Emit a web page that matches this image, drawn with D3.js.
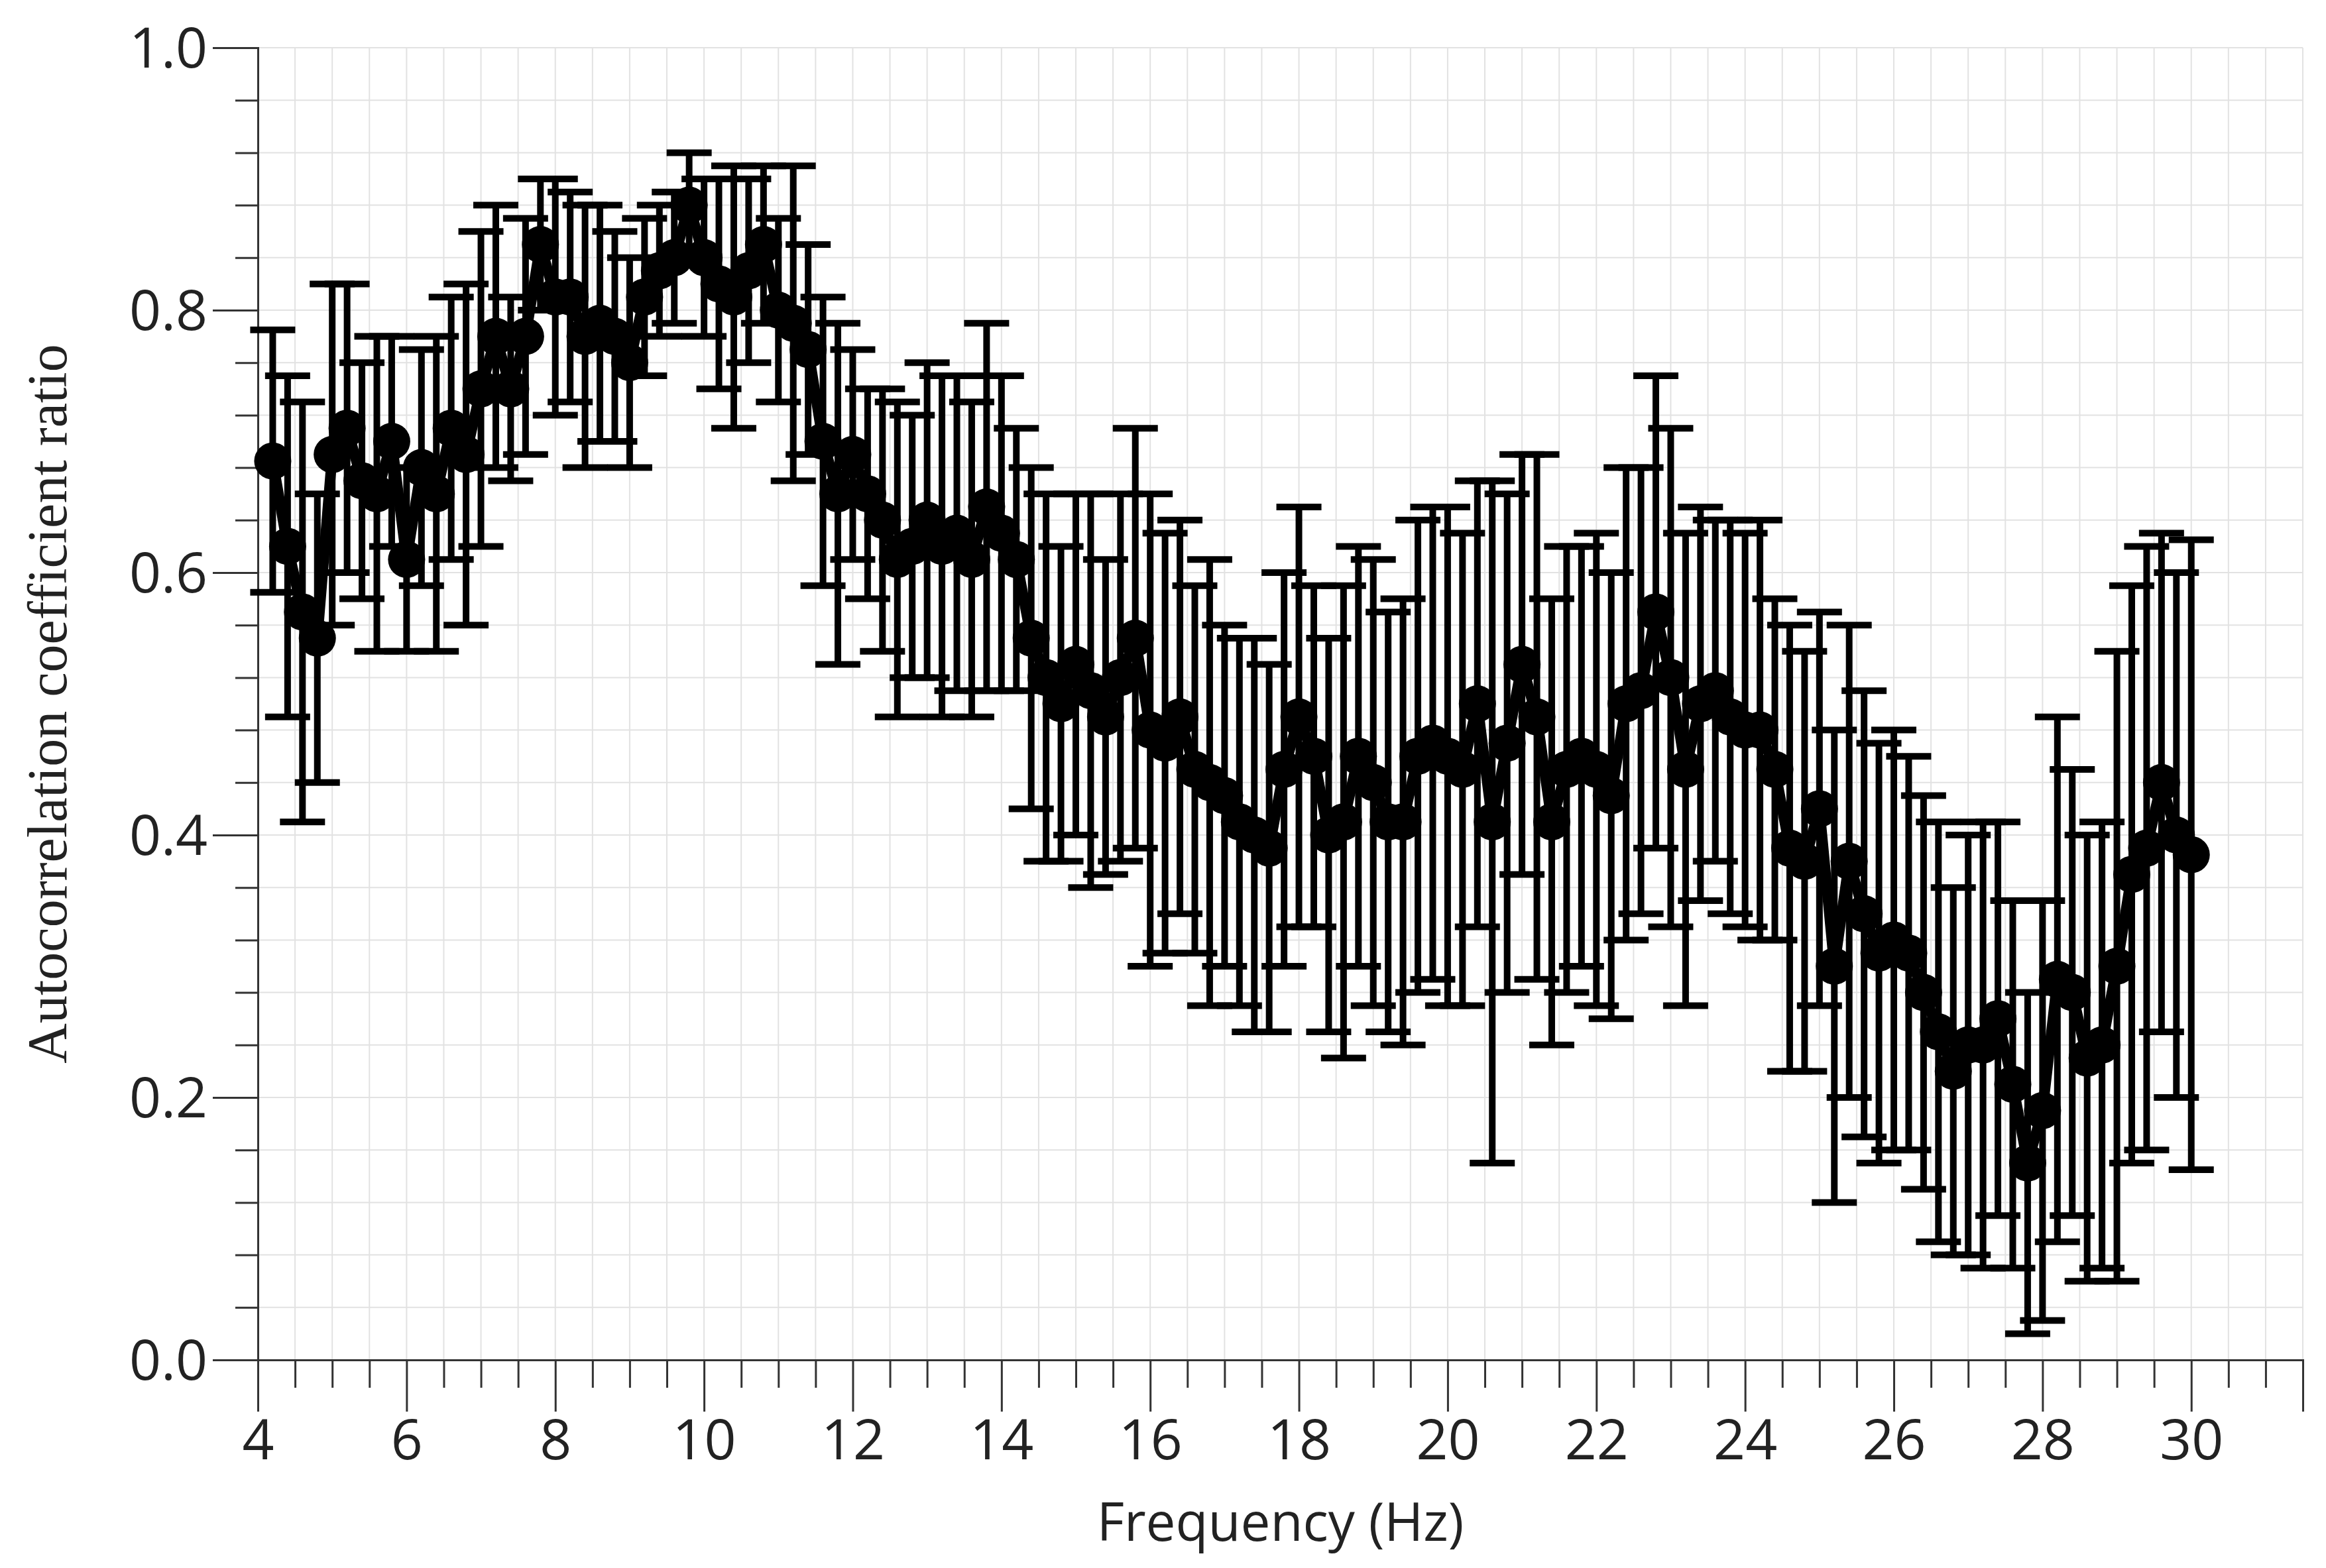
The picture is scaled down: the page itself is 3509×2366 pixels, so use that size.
<!DOCTYPE html>
<html>
<head>
<meta charset="utf-8">
<script src="https://cdn.jsdelivr.net/npm/d3@7"></script>
<style>
  body { margin: 0; background: #fff; }
</style>
</head>
<body>
<div id="chart"></div>
<script>
// frequency (Hz), mean ratio and half-width of the error bar
const freqs = [4.2,4.4,4.6,4.8,5.0,5.2,5.4,5.6,5.8,6.0,6.2,6.4,6.6,6.8,7.0,7.2,7.4,7.6,7.8,8.0,
  8.2,8.4,8.6,8.8,9.0,9.2,9.4,9.6,9.8,10.0,10.2,10.4,10.6,10.8,11.0,11.2,11.4,11.6,11.8,12.0,
  12.2,12.4,12.6,12.8,13.0,13.2,13.4,13.6,13.8,14.0,14.2,14.4,14.6,14.8,15.0,15.2,15.4,15.6,15.8,16.0,
  16.2,16.4,16.6,16.8,17.0,17.2,17.4,17.6,17.8,18.0,18.2,18.4,18.6,18.8,19.0,19.2,19.4,19.6,19.8,20.0,
  20.2,20.4,20.6,20.8,21.0,21.2,21.4,21.6,21.8,22.0,22.2,22.4,22.6,22.8,23.0,23.2,23.4,23.6,23.8,24.0,
  24.2,24.4,24.6,24.8,25.0,25.2,25.4,25.6,25.8,26.0,26.2,26.4,26.6,26.8,27.0,27.2,27.4,27.6,27.8,28.0,
  28.2,28.4,28.6,28.8,29.0,29.2,29.4,29.6,29.8,30.0];
const means = [.685,.62,.57,.55,.69,.71,.67,.66,.70,.61,.68,.66,.71,.69,.74,.78,.74,.78,.85,.81,
  .81,.78,.79,.78,.76,.81,.83,.84,.88,.84,.82,.81,.83,.85,.80,.79,.77,.70,.66,.69,
  .66,.64,.61,.62,.64,.62,.63,.61,.65,.63,.61,.55,.52,.50,.53,.51,.49,.52,.55,.48,
  .47,.49,.45,.44,.43,.41,.40,.39,.45,.49,.46,.40,.41,.46,.44,.41,.41,.46,.47,.46,
  .45,.50,.41,.47,.53,.49,.41,.45,.46,.45,.43,.50,.51,.57,.52,.45,.50,.51,.49,.48,
  .48,.45,.39,.38,.42,.30,.38,.34,.31,.32,.31,.28,.25,.22,.24,.24,.26,.21,.15,.19,
  .29,.28,.23,.24,.30,.37,.39,.44,.40,.385];
const errs = [.10,.13,.16,.11,.13,.11,.09,.12,.08,.07,.09,.12,.10,.13,.12,.10,.07,.09,.05,.09,
  .08,.10,.09,.08,.08,.06,.05,.05,.04,.06,.08,.10,.07,.06,.07,.12,.08,.11,.13,.08,
  .08,.10,.12,.10,.12,.13,.12,.12,.14,.12,.10,.13,.14,.12,.13,.15,.12,.14,.16,.18,
  .16,.15,.14,.17,.13,.14,.15,.14,.15,.16,.13,.15,.18,.16,.17,.16,.17,.18,.18,.19,
  .18,.17,.26,.19,.16,.20,.17,.17,.16,.18,.17,.18,.17,.18,.19,.18,.15,.13,.15,.15,
  .16,.13,.17,.16,.15,.18,.18,.17,.16,.16,.15,.15,.16,.14,.16,.17,.15,.14,.13,.16,
  .20,.17,.17,.17,.24,.22,.23,.19,.20,.24];

const xMajor = d3.range(4, 31, 2);
const yMajor = [0, 0.2, 0.4, 0.6, 0.8, 1.0];

const W = 3509, H = 2366;
const svg = d3.select("#chart").append("svg").attr("width", W).attr("height", H);

const x = d3.scaleLinear().domain([4, 31.5]).range([389, 3474]);
const y = d3.scaleLinear().domain([0, 1]).range([2052, 72]);

// grid
const grid = svg.append("g");
grid.selectAll(".gx").data(d3.range(4, 31.51, 0.5)).join("line")
  .attr("x1", d => x(d)).attr("x2", d => x(d)).attr("y1", y(0)).attr("y2", y(1))
  .attr("stroke", "#e2e2e2").attr("stroke-width", 2);
grid.selectAll(".gy").data(d3.range(0, 1.001, 0.04)).join("line")
  .attr("x1", x(4)).attr("x2", x(31.5)).attr("y1", d => y(d)).attr("y2", d => y(d))
  .attr("stroke", "#e2e2e2").attr("stroke-width", 2);

// axes
const yAxis = svg.append("g").attr("transform", `translate(${x(4)},0)`)
  .call(d3.axisLeft(y).tickValues(yMajor).tickFormat(d3.format(".1f")).tickSize(68).tickPadding(8));
const yMinor = svg.append("g").attr("transform", `translate(${x(4)},0)`)
  .call(d3.axisLeft(y).tickValues(d3.range(0, 1.001, 0.04).filter(v => Math.abs(v * 5 - Math.round(v * 5)) > 1e-6)).tickFormat("").tickSize(34));
const xAxis = svg.append("g").attr("transform", `translate(0,${y(0)})`)
  .call(d3.axisBottom(x).tickValues(xMajor).tickFormat(d3.format("d")).tickSize(78).tickPadding(12));
const xMinor = svg.append("g").attr("transform", `translate(0,${y(0)})`)
  .call(d3.axisBottom(x).tickValues(d3.range(4.5, 31.51, 0.5).filter(v => v % 2 !== 0)).tickFormat("").tickSize(42));

[yAxis, yMinor, xAxis, xMinor].forEach(a => {
  a.selectAll("line").attr("stroke", "#333").attr("stroke-width", 3);
  a.select(".domain").attr("stroke", "#333").attr("stroke-width", 3);
  a.selectAll("text").attr("font-family", "'Open Sans', Lato, sans-serif").attr("font-size", 84).attr("fill", "#222");
});
yAxis.selectAll("text").attr("dy", "0.35em");

// error bars
const pts = freqs.map((f, i) => ({ f, m: means[i], e: errs[i] }));
const cap = 34;
const bars = svg.append("g").attr("stroke", "#000").attr("stroke-width", 10);
bars.selectAll(".v").data(pts).join("line")
  .attr("x1", d => x(d.f)).attr("x2", d => x(d.f))
  .attr("y1", d => y(d.m - d.e)).attr("y2", d => y(d.m + d.e));
bars.selectAll(".t").data(pts).join("line")
  .attr("x1", d => x(d.f) - cap).attr("x2", d => x(d.f) + cap)
  .attr("y1", d => y(d.m + d.e)).attr("y2", d => y(d.m + d.e));
bars.selectAll(".b").data(pts).join("line")
  .attr("x1", d => x(d.f) - cap).attr("x2", d => x(d.f) + cap)
  .attr("y1", d => y(d.m - d.e)).attr("y2", d => y(d.m - d.e));

// mean line and dots
svg.append("path").datum(pts)
  .attr("d", d3.line().x(d => x(d.f)).y(d => y(d.m)))
  .attr("fill", "none").attr("stroke", "#000").attr("stroke-width", 16);
svg.append("g").selectAll("circle").data(pts).join("circle")
  .attr("cx", d => x(d.f)).attr("cy", d => y(d.m)).attr("r", 28).attr("fill", "#000");

// axis labels
svg.append("text").attr("x", x(17.75)).attr("y", 2325).attr("text-anchor", "middle")
  .attr("font-family", "'Open Sans', Lato, sans-serif").attr("font-size", 80).attr("fill", "#222")
  .text("Frequency (Hz)");
svg.append("text").attr("transform", `translate(100,${y(0.5)}) rotate(-90)`).attr("text-anchor", "middle")
  .attr("font-family", "'Liberation Serif', 'DejaVu Serif', serif").attr("font-size", 84).attr("fill", "#222")
  .text("Autocorrelation coefficient ratio");
</script>
</body>
</html>
